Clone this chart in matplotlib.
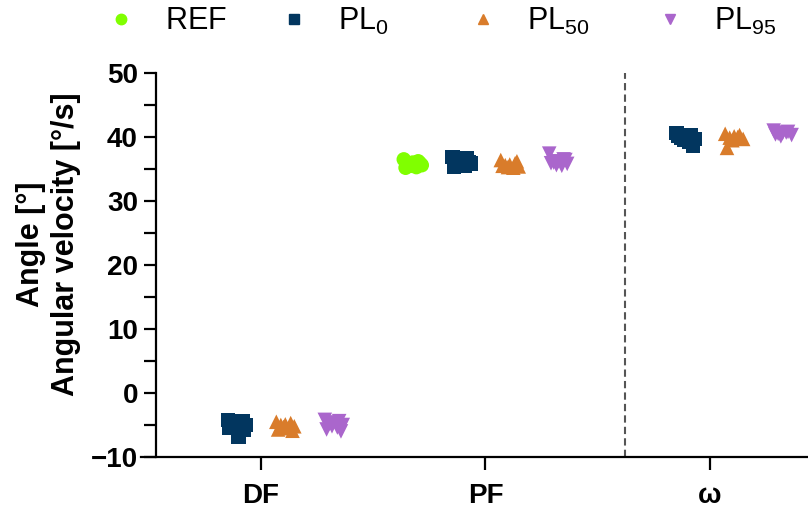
import numpy as np
import matplotlib
matplotlib.use("Agg")
import matplotlib.pyplot as plt
from matplotlib.lines import Line2D

plt.rcParams['font.family'] = ['Liberation Sans', 'DejaVu Sans']
plt.rcParams['mathtext.fontset'] = 'custom'
plt.rcParams['mathtext.rm'] = 'Liberation Sans'
plt.rcParams['mathtext.it'] = 'Liberation Sans'

# categories and groups
categories = ["DF", "PF", "ω"]
groups = ["REF", "PL0", "PL50", "PL95"]
group_labels = [r"$\mathrm{REF}$", r"$\mathrm{PL}_{0}$", r"$\mathrm{PL}_{50}$", r"$\mathrm{PL}_{95}$"]
group_colors = ["#80ff00", "#02365f", "#d97c2b", "#aa66cc"]
group_markers = ["o", "s", "^", "v"]

# individual trials per category / group (empty = not measured)
values = {
    "DF": {
        "REF": [],
        "PL0": [-4.2, -4.4, -4.6, -4.8, -5.0, -5.1, -5.3, -5.5, -5.8, -6.9],
        "PL50": [-4.5, -4.7, -4.9, -5.0, -5.2, -5.3, -5.5, -5.7, -5.9],
        "PL95": [-4.2, -4.4, -4.6, -4.8, -5.0, -5.2, -5.4, -5.7, -6.0],
    },
    "PF": {
        "REF": [36.5, 36.2, 36.0, 35.8, 35.6, 35.5, 35.3, 35.2, 35.9],
        "PL0": [36.9, 36.6, 36.3, 36.1, 35.9, 35.7, 35.5, 35.3, 36.0],
        "PL50": [36.4, 35.9, 35.7, 35.6, 35.4, 35.3, 35.2, 35.5, 36.2],
        "PL95": [37.4, 36.5, 36.2, 36.0, 35.8, 35.6, 35.5, 35.9, 36.4],
    },
    "ω": {
        "REF": [],
        "PL0": [40.6, 40.3, 40.1, 39.9, 39.7, 39.5, 39.3, 40.2, 38.7],
        "PL50": [40.5, 40.3, 40.1, 39.9, 39.7, 39.5, 40.0, 38.3],
        "PL95": [41.0, 40.8, 40.6, 40.5, 40.3, 40.1, 40.7, 40.4],
    },
}

fig = plt.figure(figsize=(8.08, 5.08), dpi=100)
ax = fig.add_axes([141 / 808, 51 / 508, 667 / 808, 384 / 508])

slot = 0.216
offsets = [(i - 1.5) * slot for i in range(len(groups))]
# sideways scatter pattern for the dots inside one column
jitter = np.array([-1.0, 0.6, 0.0, -0.5, 1.0, -0.2, 0.4, -0.8, 0.8, 0.2]) * 0.04

for ci, cat in enumerate(categories):
    for gi, g in enumerate(groups):
        y = np.array(values[cat][g])
        if len(y) == 0:
            continue
        x = ci + offsets[gi] + jitter[:len(y)]
        ax.scatter(x, y, s=110, marker=group_markers[gi], color=group_colors[gi],
                   edgecolors="none", zorder=3)

ax.axvline(1.62, color="#555555", linestyle=(0, (3.5, 2)), linewidth=1.5, zorder=1)

ax.set_xlim(-0.535, 2.437)
ax.set_ylim(-10, 50)

ax.spines['top'].set_visible(False)
ax.spines['right'].set_visible(False)
ax.spines['left'].set_position(('data', -0.468))
for s in ('left', 'bottom'):
    ax.spines[s].set_linewidth(1.6)

ax.set_yticks(np.arange(-10, 51, 10))
ax.set_yticks(np.arange(-5, 50, 10), minor=True)
ax.set_xticks(range(len(categories)))
ax.set_xticklabels(categories)
ax.tick_params(axis='both', which='both', direction='out', length=9, width=1.6)
ax.tick_params(axis='y', labelsize=20, pad=4)
ax.tick_params(axis='x', labelsize=20, pad=10)
for lbl in ax.get_xticklabels() + ax.get_yticklabels():
    lbl.set_fontweight('bold')

fig.text(0.06, 0.52, "Angle [°]\nAngular velocity [°/s]", rotation=90,
         ha='center', va='center', fontsize=22, fontweight='bold',
         multialignment='center', linespacing=1.2)

# one legend entry per group, laid out in a row above the plot
legend_x = [121, 294, 483, 670]
fs = 22
em = fs * 100 / 72
for lx, lab, m, c in zip(legend_x, group_labels, group_markers, group_colors):
    h = Line2D([], [], linestyle='none', marker=m, color=c, markersize=7.5)
    fig.legend([h], [lab], loc='center left',
               bbox_to_anchor=((lx - em / 2) / 808, 0.958),
               frameon=False, fontsize=fs, handletextpad=0.94,
               handlelength=1.0, borderpad=0, borderaxespad=0)

fig.savefig("out.png", dpi=100)
